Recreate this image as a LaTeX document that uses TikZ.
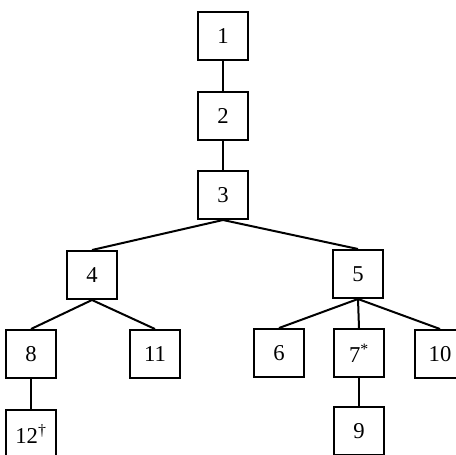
\documentclass[tikz,border=0pt]{standalone}
\usepackage{fontspec}
\setmainfont{Liberation Serif}

\begin{document}
\begin{tikzpicture} [x=0.75pt, y=-0.75pt,
  box/.style={draw, line width=1.5pt, minimum width=37pt, minimum height=36pt, inner sep=0pt, font=\fontsize{17}{19}\selectfont},
  link/.style={line width=1.5pt}]
\useasboundingbox (0,0) rectangle (456,454);
\clip (0,0) rectangle (456,454);

\foreach \n/\x/\y in {1/223/36, 2/223/116, 3/223/195, 4/92/275, 5/358/274, 8/31/354, 11/155/354, 6/279/353, 10/440/354, 9/359/431}
  \node[box] (n\n) at (\x,\y) {\n};
\node[box] (n7) at (359,353) {7\textsuperscript{*}};
\node[box] (n12) at (31,434) {12\textsuperscript{\textdagger}};

\foreach \a/\b in {1/2, 2/3, 3/4, 3/5, 4/8, 4/11, 8/12, 5/6, 5/7, 5/10, 7/9}
  \draw[link] (n\a.south) -- (n\b.north);

\end{tikzpicture}
\end{document}
